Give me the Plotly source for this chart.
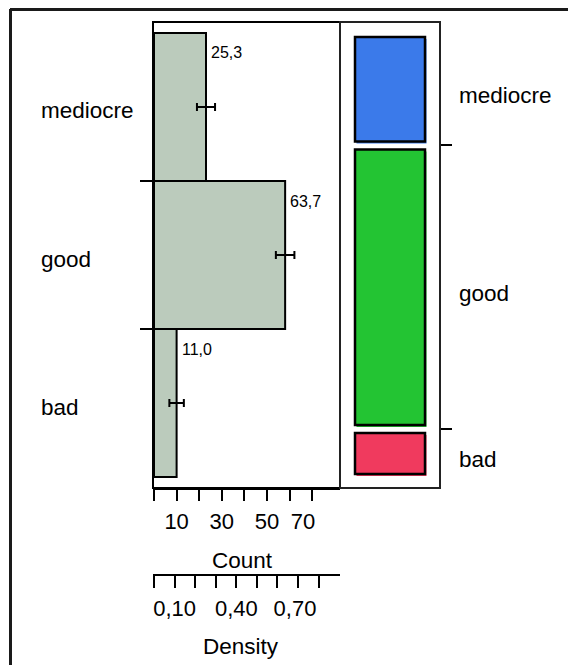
import plotly.graph_objects as go

# Rating categories, bottom to top
categories = ["bad", "good", "mediocre"]
counts = [10, 58, 23]
count_err = [3.2, 4.1, 4.0]          # half-width of the error bars, in counts
segment_colors = ["#F03A5E", "#23C433", "#3B7AEA"]

count_ticks = [0, 10, 20, 30, 40, 50, 60, 70]
count_tick_labels = ["", "10", "", "30", "", "50", "", "70"]
density_ticks = [0.0, 0.1, 0.2, 0.3, 0.4, 0.5, 0.6, 0.7, 0.8]
density_tick_labels = ["", "0,10", "", "", "0,40", "", "", "0,70", ""]

W, H = 568, 665
FONT = "Liberation Sans, Arial, sans-serif"
NBSP = "\u00a0"


def px(x):
    return x / W


def py(y):
    return 1 - y / H


total = sum(counts)
shares = [c / total for c in counts]
share_labels = [f"{100 * s:.1f}".replace(".", ",") for s in shares]

# the last label of each scale is nudged left to stay clear of the panel edge
count_tick_text = list(count_tick_labels)
count_tick_text[-1] = count_tick_text[-1] + NBSP * 3
density_tick_text = list(density_tick_labels)
density_tick_text[-2] = density_tick_text[-2] + NBSP

# count axis: 0 sits 1px inside the panel, ~2.26 px per count
px_per_count = 2.261
count_range = [(153 - 154) / px_per_count, (340 - 154) / px_per_count]
density_range = [r / total for r in count_range]

# histogram bins: 148 px each, 11 px padding inside the panel
hist_range = [-11 / 148, 3 + 11 / 148]
# spine plot: proportions 0..1 over 445 px
spine_range = [-(488 - 478) / 445, 1 + (33 - 22) / 445]
gap = 4 / 445

fig = go.Figure()

fig.add_trace(go.Bar(
    orientation="h",
    y=[i + 0.5 for i in range(len(categories))],
    x=counts,
    width=1,
    marker=dict(color="#BBCBBC", line=dict(color="black", width=2)),
    error_x=dict(type="data", array=count_err, color="black",
                 thickness=2, width=4),
    xaxis="x", yaxis="y",
    hoverinfo="skip",
))

# the same bars on the density scale (transparent, keeps the density axis live)
fig.add_trace(go.Scatter(
    x=shares,
    y=[i + 0.5 for i in range(len(categories))],
    mode="markers",
    marker=dict(opacity=0, size=1),
    xaxis="x2", yaxis="y",
    hoverinfo="skip",
))

cum = [sum(shares[:i]) for i in range(len(shares))]

# coloured halo slightly offset behind each spine segment
fig.add_trace(go.Bar(
    x=[0.5 + 0.015] * len(shares),
    y=[s - 2 * gap for s in shares],
    base=[c + gap - 2 / 445 for c in cum],
    width=0.7,
    marker=dict(color=segment_colors, line=dict(width=0)),
    xaxis="x3", yaxis="y3",
    hoverinfo="skip",
))
fig.add_trace(go.Bar(
    x=[0.5] * len(shares),
    y=[s - 2 * gap for s in shares],
    base=[c + gap for c in cum],
    width=0.7,
    marker=dict(color=segment_colors, line=dict(color="black", width=2.5)),
    xaxis="x3", yaxis="y3",
    hoverinfo="skip",
))

annotations = []
for i, cat in enumerate(categories):
    annotations.append(dict(
        text=cat, xref="paper", x=px(39), xanchor="left",
        yref="y", y=i + 0.5, yanchor="middle", yshift=-4,
        showarrow=False, font=dict(size=22.5, color="black", family=FONT)))
    annotations.append(dict(
        text=share_labels[i], xref="x", x=counts[i], xanchor="left", xshift=3,
        yref="y", y=i + 1, yanchor="middle", yshift=-20,
        showarrow=False, font=dict(size=16, color="black", family=FONT)))
    annotations.append(dict(
        text=cat, xref="paper", x=px(457), xanchor="left",
        yref="y3", y=cum[i] + shares[i] / 2, yanchor="middle", yshift=-6,
        showarrow=False, font=dict(size=22.5, color="black", family=FONT)))

annotations.append(dict(
    text="Count", xref="paper", x=px(242), xanchor="center",
    yref="paper", y=py(560), yanchor="middle",
    showarrow=False, font=dict(size=22.5, color="black", family=FONT)))
annotations.append(dict(
    text="Density", xref="paper", x=px(241), xanchor="center",
    yref="paper", y=py(646), yanchor="middle",
    showarrow=False, font=dict(size=22.5, color="black", family=FONT)))

shapes = [
    # outer frame (top and left edges)
    dict(type="line", xref="paper", yref="paper", x0=px(10), x1=px(600),
         y0=py(9.5), y1=py(9.5), line=dict(color="#1a1a1a", width=3)),
    dict(type="line", xref="paper", yref="paper", x0=px(10.5), x1=px(10.5),
         y0=py(9), y1=py(700), line=dict(color="#1a1a1a", width=3)),
    # histogram panel
    dict(type="rect", xref="paper", yref="paper", x0=px(153), x1=px(340),
         y0=py(488), y1=py(22), line=dict(color="black", width=2)),
    # spine panel
    dict(type="rect", xref="paper", yref="paper", x0=px(340), x1=px(440),
         y0=py(488), y1=py(22), line=dict(color="#222222", width=2)),
]

tickfont = dict(size=22, color="black", family=FONT)

fig.update_layout(
    width=W, height=H,
    margin=dict(l=0, r=0, t=0, b=0),
    paper_bgcolor="white", plot_bgcolor="rgba(0,0,0,0)",
    showlegend=False,
    barmode="overlay",
    font=dict(family=FONT, color="black"),
    xaxis=dict(
        domain=[px(153), px(340)], range=count_range, anchor="y",
        tickmode="array", tickvals=count_ticks, ticktext=count_tick_text,
        ticks="outside", ticklen=11, tickwidth=2, tickcolor="black",
        showline=True, linecolor="black", linewidth=2,
        showgrid=False, zeroline=False, tickfont=tickfont,
        ticklabelstandoff=2,
    ),
    xaxis2=dict(
        overlaying="x", anchor="free", position=py(575), side="bottom",
        range=density_range,
        tickmode="array", tickvals=density_ticks, ticktext=density_tick_text,
        ticks="outside", ticklen=12, tickwidth=2, tickcolor="black",
        showline=True, linecolor="black", linewidth=2,
        showgrid=False, zeroline=False, tickfont=tickfont,
        ticklabelstandoff=2,
    ),
    yaxis=dict(
        domain=[py(488), py(22)], range=hist_range, anchor="x",
        tickmode="array", tickvals=[1, 2],
        ticks="outside", ticklen=12, tickwidth=2, tickcolor="black",
        showticklabels=False, showgrid=False, zeroline=False, showline=False,
    ),
    xaxis3=dict(
        domain=[px(340), px(440)], range=[0, 1], anchor="y3", visible=False,
    ),
    yaxis3=dict(
        domain=[py(488), py(22)], range=spine_range, anchor="x3", side="right",
        tickmode="array", tickvals=[cum[1], cum[2]],
        ticks="outside", ticklen=11, tickwidth=2, tickcolor="black",
        showticklabels=False, showgrid=False, zeroline=False, showline=False,
    ),
    annotations=annotations,
    shapes=shapes,
)

fig.write_html("out.html")
